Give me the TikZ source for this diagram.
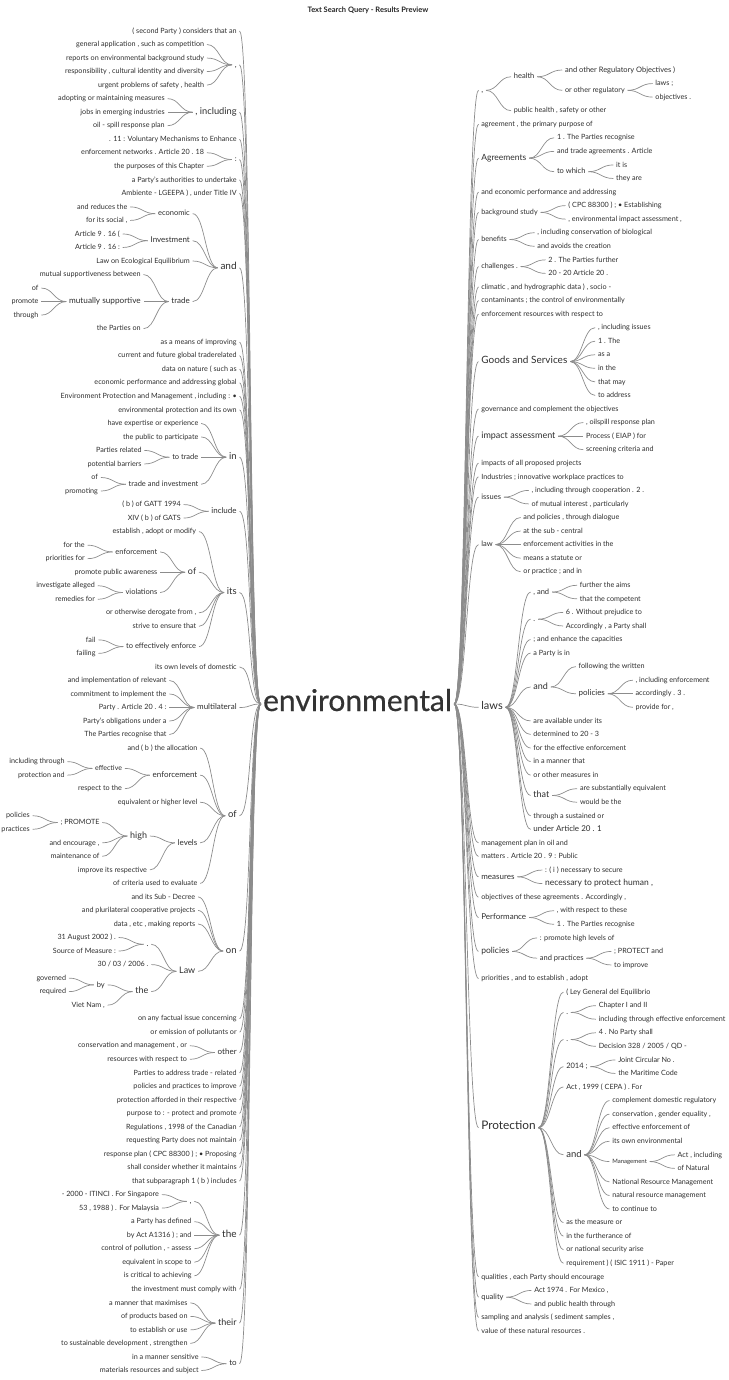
\documentclass[tikz,border=0pt]{standalone}
\usepackage{fontspec}
\setmainfont{Lato}
\newfontfamily\rootfont[FakeBold=0.5]{Lato}
\tikzset{every path/.style={line width=.7pt}}
\tikzset{
  lw/.style={anchor=east,inner xsep=2.5pt,inner ysep=0pt,text height=6.4pt,text depth=2pt,
    text=black!82,font=\fontsize{7.2}{8}\selectfont},
  rw/.style={lw,anchor=west},
  sz/.style={font=\fontsize{#1}{#1}\selectfont},
  link/.style={draw=black!45},
  wt/.style={to path={.. controls +(#1,0) and +(-#1,0) .. (\tikztotarget)}},
  wt/.default=12
}

\begin{document}
\begin{tikzpicture}[x=1pt,y=1pt]
  \useasboundingbox (0,0) rectangle (728,-1380);
  \node[font=\bfseries\fontsize{7.5}{8}\selectfont,text=black!85] (title) at (368,-10.7) {Text Search Query - Results Preview};
  \node[font=\rootfont\fontsize{30}{30}\selectfont,text=black!80,inner xsep=2pt,inner ysep=0pt,text height=20pt,text depth=6pt] (root) at (357.5,-704) {environmental};

  % left half, one unit = one row
  \begin{scope}[yshift=-17.47pt,y=-13.53pt]
    \node[lw] (l1) at (239.5,1) {( second Party ) considers that an};
    \node[lw,sz=8] (lc) at (239.5,3.5) {,};
    \node[lw,xshift=-25] (l2) at (lc.west |- 0,2) {general application , such as competition};
    \node[lw,xshift=-25] (l3) at (lc.west |- 0,3) {reports on environmental background study};
    \node[lw,xshift=-25] (l4) at (lc.west |- 0,4) {responsibility , cultural identity and diversity};
    \node[lw,xshift=-25] (l5) at (lc.west |- 0,5) {urgent problems of safety , health};
    \node[lw,sz=9.3] (linc) at (239.5,7) {, including};
    \node[lw,xshift=-25] (l6) at (linc.west |- 0,6) {adopting or maintaining measures};
    \node[lw,xshift=-25] (l7) at (linc.west |- 0,7) {jobs in emerging industries};
    \node[lw,xshift=-25] (l8) at (linc.west |- 0,8) {oil - spill response plan};
    \node[lw] (l9) at (239.5,9) {. 11 : Voluntary Mechanisms to Enhance};
    \node[lw,sz=7.5] (lcol) at (239.5,10.5) {:};
    \node[lw,xshift=-25] (l10) at (lcol.west |- 0,10) {enforcement networks . Article 20 . 18};
    \node[lw,xshift=-25] (l11) at (lcol.west |- 0,11) {the purposes of this Chapter};
    \node[lw] (l12) at (239.5,12) {a Party's authorities to undertake};
    \node[lw] (l13) at (239.5,13) {Ambiente - LGEEPA ) , under Title IV};
    \node[lw,sz=10] (land) at (239.5,18.5) {and};
    \node[lw,sz=7.5,xshift=-25] (lecon) at (land.west |- 0,14.5) {economic};
    \node[lw,xshift=-25] (l14) at (lecon.west |- 0,14) {and reduces the};
    \node[lw,xshift=-25] (l15) at (lecon.west |- 0,15) {for its social ,};
    \node[lw,sz=8,xshift=-25] (linv) at (land.west |- 0,16.5) {Investment};
    \node[lw,xshift=-25] (l16) at (linv.west |- 0,16) {Article 9 . 16 (};
    \node[lw,xshift=-25] (l17) at (linv.west |- 0,17) {Article 9 . 16 :};
    \node[lw,xshift=-25] (l18) at (land.west |- 0,18) {Law on Ecological Equilibrium};
    \node[lw,sz=8,xshift=-25] (ltrade) at (land.west |- 0,21) {trade};
    \node[lw,xshift=-25] (l19) at (ltrade.west |- 0,19) {mutual supportiveness between};
    \node[lw,sz=8.2,xshift=-25] (lmut) at (ltrade.west |- 0,21) {mutually supportive};
    \node[lw,xshift=-25] (l20) at (lmut.west |- 0,20) {of};
    \node[lw,xshift=-25] (l21) at (lmut.west |- 0,21) {promote};
    \node[lw,xshift=-25] (l22) at (lmut.west |- 0,22) {through};
    \node[lw,xshift=-25] (l23) at (ltrade.west |- 0,23) {the Parties on};
    \node[lw] (l24) at (239.5,24) {as a means of improving};
    \node[lw] (l25) at (239.5,25) {current and future global traderelated};
    \node[lw] (l26) at (239.5,26) {data on nature ( such as};
    \node[lw] (l27) at (239.5,27) {economic performance and addressing global};
    \node[lw] (l28) at (239.5,28) {Environment Protection and Management , including : •};
    \node[lw] (l29) at (239.5,29) {environmental protection and its own};
    \node[lw,sz=9.5] (lin) at (239.5,32.5) {in};
    \node[lw,xshift=-25] (l30) at (lin.west |- 0,30) {have expertise or experience};
    \node[lw,xshift=-25] (l31) at (lin.west |- 0,31) {the public to participate};
    \node[lw,sz=7.5,xshift=-25] (ltotr) at (lin.west |- 0,32.5) {to trade};
    \node[lw,xshift=-25] (l32) at (ltotr.west |- 0,32) {Parties related};
    \node[lw,xshift=-25] (l33) at (ltotr.west |- 0,33) {potential barriers};
    \node[lw,sz=7.5,xshift=-25] (ltrinv) at (lin.west |- 0,34.5) {trade and investment};
    \node[lw,xshift=-25] (l34) at (ltrinv.west |- 0,34) {of};
    \node[lw,xshift=-25] (l35) at (ltrinv.west |- 0,35) {promoting};
    \node[lw,sz=8] (lincl) at (239.5,36.5) {include};
    \node[lw,xshift=-25] (l36) at (lincl.west |- 0,36) {( b ) of GATT 1994};
    \node[lw,xshift=-25] (l37) at (lincl.west |- 0,37) {XIV ( b ) of GATS};
    \node[lw,sz=9.5] (lits) at (239.5,42.5) {its};
    \node[lw,xshift=-25] (l38) at (lits.west |- 0,38) {establish , adopt or modify};
    \node[lw,sz=9,xshift=-25] (lof1) at (lits.west |- 0,41) {of};
    \node[lw,sz=7.5,xshift=-25] (lenf1) at (lof1.west |- 0,39.5) {enforcement};
    \node[lw,xshift=-25] (l39) at (lenf1.west |- 0,39) {for the};
    \node[lw,xshift=-25] (l40) at (lenf1.west |- 0,40) {priorities for};
    \node[lw,xshift=-25] (l41) at (lof1.west |- 0,41) {promote public awareness};
    \node[lw,sz=7.5,xshift=-25] (lviol) at (lof1.west |- 0,42.5) {violations};
    \node[lw,xshift=-25] (l42) at (lviol.west |- 0,42) {investigate alleged};
    \node[lw,xshift=-25] (l43) at (lviol.west |- 0,43) {remedies for};
    \node[lw,xshift=-25] (l44) at (lits.west |- 0,44) {or otherwise derogate from ,};
    \node[lw,xshift=-25] (l45) at (lits.west |- 0,45) {strive to ensure that};
    \node[lw,sz=7.5,xshift=-25] (leff1) at (lits.west |- 0,46.5) {to effectively enforce};
    \node[lw,xshift=-25] (l46) at (leff1.west |- 0,46) {fail};
    \node[lw,xshift=-25] (l47) at (leff1.west |- 0,47) {failing};
    \node[lw] (l48) at (239.5,48) {its own levels of domestic};
    \node[lw,sz=8] (lmulti) at (239.5,51) {multilateral};
    \node[lw,xshift=-25] (l49) at (lmulti.west |- 0,49) {and implementation of relevant};
    \node[lw,xshift=-25] (l50) at (lmulti.west |- 0,50) {commitment to implement the};
    \node[lw,xshift=-25] (l51) at (lmulti.west |- 0,51) {Party . Article 20 . 4 :};
    \node[lw,xshift=-25] (l52) at (lmulti.west |- 0,52) {Party's obligations under a};
    \node[lw,xshift=-25] (l53) at (lmulti.west |- 0,53) {The Parties recognise that};
    \node[lw,sz=9.5] (lof2) at (239.5,59) {of};
    \node[lw,xshift=-25] (l54) at (lof2.west |- 0,54) {and ( b ) the allocation};
    \node[lw,sz=8,xshift=-25] (lenf2) at (lof2.west |- 0,56) {enforcement};
    \node[lw,sz=7,xshift=-25] (leff2) at (lenf2.west |- 0,55.5) {effective};
    \node[lw,xshift=-25] (l55) at (leff2.west |- 0,55) {including through};
    \node[lw,xshift=-25] (l56) at (leff2.west |- 0,56) {protection and};
    \node[lw,xshift=-25] (l57) at (lenf2.west |- 0,57) {respect to the};
    \node[lw,xshift=-25] (l58) at (lof2.west |- 0,58) {equivalent or higher level};
    \node[lw,sz=8,xshift=-25] (llev) at (lof2.west |- 0,61) {levels};
    \node[lw,sz=9,xshift=-25] (lhigh) at (llev.west |- 0,60.5) {high};
    \node[lw,xshift=-25] (lprom) at (lhigh.west |- 0,59.5) {; PROMOTE};
    \node[lw,xshift=-25] (l59) at (lprom.west |- 0,59) {policies};
    \node[lw,xshift=-25] (l60) at (lprom.west |- 0,60) {practices};
    \node[lw,xshift=-25] (l61) at (lhigh.west |- 0,61) {and encourage ,};
    \node[lw,xshift=-25] (l62) at (lhigh.west |- 0,62) {maintenance of};
    \node[lw,xshift=-25] (l63) at (llev.west |- 0,63) {improve its respective};
    \node[lw,xshift=-25] (l64) at (lof2.west |- 0,64) {of criteria used to evaluate};
    \node[lw,sz=9.5] (lon) at (239.5,69) {on};
    \node[lw,xshift=-25] (l65) at (lon.west |- 0,65) {and its Sub - Decree};
    \node[lw,xshift=-25] (l66) at (lon.west |- 0,66) {and plurilateral cooperative projects};
    \node[lw,xshift=-25] (l67) at (lon.west |- 0,67) {data , etc , making reports};
    \node[lw,sz=9,xshift=-25] (llaw) at (lon.west |- 0,70.5) {Law};
    \node[lw,sz=8,xshift=-25] (ldot) at (llaw.west |- 0,68.5) {.};
    \node[lw,xshift=-25] (l68) at (ldot.west |- 0,68) {31 August 2002 ) .};
    \node[lw,xshift=-25] (l69) at (ldot.west |- 0,69) {Source of Measure :};
    \node[lw,xshift=-25] (l70) at (llaw.west |- 0,70) {30 / 03 / 2006 .};
    \node[lw,sz=9,xshift=-25] (lthe1) at (llaw.west |- 0,72) {the};
    \node[lw,sz=7.5,xshift=-25] (lby) at (lthe1.west |- 0,71.5) {by};
    \node[lw,xshift=-25] (l71) at (lby.west |- 0,71) {governed};
    \node[lw,xshift=-25] (l72) at (lby.west |- 0,72) {required};
    \node[lw,xshift=-25] (l73) at (lthe1.west |- 0,73) {Viet Nam ,};
    \node[lw] (l74) at (239.5,74) {on any factual issue concerning};
    \node[lw] (l75) at (239.5,75) {or emission of pollutants or};
    \node[lw,sz=8] (lother) at (239.5,76.5) {other};
    \node[lw,xshift=-25] (l76) at (lother.west |- 0,76) {conservation and management , or};
    \node[lw,xshift=-25] (l77) at (lother.west |- 0,77) {resources with respect to};
    \node[lw] (l78) at (239.5,78) {Parties to address trade - related};
    \node[lw] (l79) at (239.5,79) {policies and practices to improve};
    \node[lw] (l80) at (239.5,80) {protection afforded in their respective};
    \node[lw] (l81) at (239.5,81) {purpose to : - protect and promote};
    \node[lw] (l82) at (239.5,82) {Regulations , 1998 of the Canadian};
    \node[lw] (l83) at (239.5,83) {requesting Party does not maintain};
    \node[lw] (l84) at (239.5,84) {response plan ( CPC 88300 ) ; • Proposing};
    \node[lw] (l85) at (239.5,85) {shall consider whether it maintains};
    \node[lw] (l86) at (239.5,86) {that subparagraph 1 ( b ) includes};
    \node[lw,sz=10] (lthe2) at (239.5,90) {the};
    \node[lw,sz=8,xshift=-25] (lcom) at (lthe2.west |- 0,87.5) {,};
    \node[lw,xshift=-25] (l87) at (lcom.west |- 0,87) {- 2000 - ITINCI . For Singapore};
    \node[lw,xshift=-25] (l88) at (lcom.west |- 0,88) {53 , 1988 ) . For Malaysia};
    \node[lw,xshift=-25] (l89) at (lthe2.west |- 0,89) {a Party has defined};
    \node[lw,xshift=-25] (l90) at (lthe2.west |- 0,90) {by Act A1316 ) ; and};
    \node[lw,xshift=-25] (l91) at (lthe2.west |- 0,91) {control of pollution , - assess};
    \node[lw,xshift=-25] (l92) at (lthe2.west |- 0,92) {equivalent in scope to};
    \node[lw,xshift=-25] (l93) at (lthe2.west |- 0,93) {is critical to achieving};
    \node[lw] (l94) at (239.5,94) {the investment must comply with};
    \node[lw,sz=9] (ltheir) at (239.5,96.5) {their};
    \node[lw,xshift=-25] (l95) at (ltheir.west |- 0,95) {a manner that maximises};
    \node[lw,xshift=-25] (l96) at (ltheir.west |- 0,96) {of products based on};
    \node[lw,xshift=-25] (l97) at (ltheir.west |- 0,97) {to establish or use};
    \node[lw,xshift=-25] (l98) at (ltheir.west |- 0,98) {to sustainable development , strengthen};
    \node[lw,sz=8] (lto) at (239.5,99.5) {to};
    \node[lw,xshift=-25] (l99) at (lto.west |- 0,99) {in a manner sensitive};
    \node[lw,xshift=-25] (l100) at (lto.west |- 0,100) {materials resources and subject};

    \path[link] (root.west) edge[wt=-12] (l1.east) edge[wt=-12] (lc.east) edge[wt=-12] (linc.east)
      edge[wt=-12] (l9.east) edge[wt=-12] (lcol.east) edge[wt=-12] (l12.east) edge[wt=-12] (l13.east)
      edge[wt=-12] (land.east) edge[wt=-12] (l24.east) edge[wt=-12] (l25.east) edge[wt=-12] (l26.east)
      edge[wt=-12] (l27.east) edge[wt=-12] (l28.east) edge[wt=-12] (l29.east) edge[wt=-12] (lin.east)
      edge[wt=-12] (lincl.east) edge[wt=-12] (lits.east) edge[wt=-12] (l48.east) edge[wt=-12] (lmulti.east)
      edge[wt=-12] (lof2.east) edge[wt=-12] (lon.east) edge[wt=-12] (l74.east) edge[wt=-12] (l75.east)
      edge[wt=-12] (lother.east) edge[wt=-12] (l78.east) edge[wt=-12] (l79.east) edge[wt=-12] (l80.east)
      edge[wt=-12] (l81.east) edge[wt=-12] (l82.east) edge[wt=-12] (l83.east) edge[wt=-12] (l84.east)
      edge[wt=-12] (l85.east) edge[wt=-12] (l86.east) edge[wt=-12] (lthe2.east) edge[wt=-12] (l94.east)
      edge[wt=-12] (ltheir.east) edge[wt=-12] (lto.east);
    \path[link] (lc.west) edge[wt=-12] (l2.east) edge[wt=-12] (l3.east) edge[wt=-12] (l4.east) edge[wt=-12] (l5.east);
    \path[link] (linc.west) edge[wt=-12] (l6.east) edge[wt=-12] (l7.east) edge[wt=-12] (l8.east);
    \path[link] (lcol.west) edge[wt=-12] (l10.east) edge[wt=-12] (l11.east);
    \path[link] (land.west) edge[wt=-12] (lecon.east) edge[wt=-12] (linv.east) edge[wt=-12] (l18.east) edge[wt=-12] (ltrade.east);
    \path[link] (lecon.west) edge[wt=-12] (l14.east) edge[wt=-12] (l15.east);
    \path[link] (linv.west) edge[wt=-12] (l16.east) edge[wt=-12] (l17.east);
    \path[link] (ltrade.west) edge[wt=-12] (l19.east) edge[wt=-12] (lmut.east) edge[wt=-12] (l23.east);
    \path[link] (lmut.west) edge[wt=-12] (l20.east) edge[wt=-12] (l21.east) edge[wt=-12] (l22.east);
    \path[link] (lin.west) edge[wt=-12] (l30.east) edge[wt=-12] (l31.east) edge[wt=-12] (ltotr.east) edge[wt=-12] (ltrinv.east);
    \path[link] (ltotr.west) edge[wt=-12] (l32.east) edge[wt=-12] (l33.east);
    \path[link] (ltrinv.west) edge[wt=-12] (l34.east) edge[wt=-12] (l35.east);
    \path[link] (lincl.west) edge[wt=-12] (l36.east) edge[wt=-12] (l37.east);
    \path[link] (lits.west) edge[wt=-12] (l38.east) edge[wt=-12] (lof1.east) edge[wt=-12] (l44.east)
      edge[wt=-12] (l45.east) edge[wt=-12] (leff1.east);
    \path[link] (lof1.west) edge[wt=-12] (lenf1.east) edge[wt=-12] (l41.east) edge[wt=-12] (lviol.east);
    \path[link] (lenf1.west) edge[wt=-12] (l39.east) edge[wt=-12] (l40.east);
    \path[link] (lviol.west) edge[wt=-12] (l42.east) edge[wt=-12] (l43.east);
    \path[link] (leff1.west) edge[wt=-12] (l46.east) edge[wt=-12] (l47.east);
    \path[link] (lmulti.west) edge[wt=-12] (l49.east) edge[wt=-12] (l50.east) edge[wt=-12] (l51.east)
      edge[wt=-12] (l52.east) edge[wt=-12] (l53.east);
    \path[link] (lof2.west) edge[wt=-12] (l54.east) edge[wt=-12] (lenf2.east) edge[wt=-12] (l58.east)
      edge[wt=-12] (llev.east) edge[wt=-12] (l64.east);
    \path[link] (lenf2.west) edge[wt=-12] (leff2.east) edge[wt=-12] (l57.east);
    \path[link] (leff2.west) edge[wt=-12] (l55.east) edge[wt=-12] (l56.east);
    \path[link] (llev.west) edge[wt=-12] (lhigh.east) edge[wt=-12] (l63.east);
    \path[link] (lhigh.west) edge[wt=-12] (lprom.east) edge[wt=-12] (l61.east) edge[wt=-12] (l62.east);
    \path[link] (lprom.west) edge[wt=-12] (l59.east) edge[wt=-12] (l60.east);
    \path[link] (lon.west) edge[wt=-12] (l65.east) edge[wt=-12] (l66.east) edge[wt=-12] (l67.east) edge[wt=-12] (llaw.east);
    \path[link] (llaw.west) edge[wt=-12] (ldot.east) edge[wt=-12] (l70.east) edge[wt=-12] (lthe1.east);
    \path[link] (ldot.west) edge[wt=-12] (l68.east) edge[wt=-12] (l69.east);
    \path[link] (lthe1.west) edge[wt=-12] (lby.east) edge[wt=-12] (l73.east);
    \path[link] (lby.west) edge[wt=-12] (l71.east) edge[wt=-12] (l72.east);
    \path[link] (lother.west) edge[wt=-12] (l76.east) edge[wt=-12] (l77.east);
    \path[link] (lthe2.west) edge[wt=-12] (lcom.east) edge[wt=-12] (l89.east) edge[wt=-12] (l90.east)
      edge[wt=-12] (l91.east) edge[wt=-12] (l92.east) edge[wt=-12] (l93.east);
    \path[link] (lcom.west) edge[wt=-12] (l87.east) edge[wt=-12] (l88.east);
    \path[link] (ltheir.west) edge[wt=-12] (l95.east) edge[wt=-12] (l96.east) edge[wt=-12] (l97.east) edge[wt=-12] (l98.east);
    \path[link] (lto.west) edge[wt=-12] (l99.east) edge[wt=-12] (l100.east);
  \end{scope}

  % right half, one unit = one row
  \begin{scope}[yshift=-56.44pt,y=-13.56pt]
    \node[rw,sz=8] (rc) at (478.5,2.5) {,};
    \node[rw,sz=7.5,xshift=25] (rhealth) at (rc.east |- 0,1.5) {health};
    \node[rw,sz=7.5,xshift=25] (r1) at (rhealth.east |- 0,1) {and other Regulatory Objectives )};
    \node[rw,xshift=25] (rother) at (rhealth.east |- 0,2.5) {or other regulatory};
    \node[rw,xshift=25] (r2) at (rother.east |- 0,2) {laws ;};
    \node[rw,xshift=25] (r3) at (rother.east |- 0,3) {objectives .};
    \node[rw,xshift=25] (r4) at (rc.east |- 0,4) {public health , safety or other};
    \node[rw] (r5) at (478.5,5) {agreement , the primary purpose of};
    \node[rw,sz=8.5] (ragr) at (478.5,7.5) {Agreements};
    \node[rw,xshift=25] (r6) at (ragr.east |- 0,6) {1 . The Parties recognise};
    \node[rw,xshift=25] (r7) at (ragr.east |- 0,7) {and trade agreements . Article};
    \node[rw,sz=7.5,xshift=25] (rwhich) at (ragr.east |- 0,8.5) {to which};
    \node[rw,xshift=25] (r8) at (rwhich.east |- 0,8) {it is};
    \node[rw,xshift=25] (r9) at (rwhich.east |- 0,9) {they are};
    \node[rw] (r10) at (478.5,10) {and economic performance and addressing};
    \node[rw] (rbg) at (478.5,11.5) {background study};
    \node[rw,xshift=25] (r11) at (rbg.east |- 0,11) {( CPC 88300 ) ; • Establishing};
    \node[rw,xshift=25] (r12) at (rbg.east |- 0,12) {, environmental impact assessment ,};
    \node[rw] (rben) at (478.5,13.5) {benefits};
    \node[rw,xshift=25] (r13) at (rben.east |- 0,13) {, including conservation of biological};
    \node[rw,xshift=25] (r14) at (rben.east |- 0,14) {and avoids the creation};
    \node[rw] (rchal) at (478.5,15.5) {challenges .};
    \node[rw,xshift=25] (r15) at (rchal.east |- 0,15) {2 . The Parties further};
    \node[rw,xshift=25] (r16) at (rchal.east |- 0,16) {20 - 20 Article 20 .};
    \node[rw] (r17) at (478.5,17) {climatic , and hydrographic data ) , socio -};
    \node[rw] (r18) at (478.5,18) {contaminants ; the control of environmentally};
    \node[rw] (r19) at (478.5,19) {enforcement resources with respect to};
    \node[rw,sz=10] (rgoods) at (478.5,22.5) {Goods and Services};
    \node[rw,xshift=25] (r20) at (rgoods.east |- 0,20) {, including issues};
    \node[rw,xshift=25] (r21) at (rgoods.east |- 0,21) {1 . The};
    \node[rw,xshift=25] (r22) at (rgoods.east |- 0,22) {as a};
    \node[rw,xshift=25] (r23) at (rgoods.east |- 0,23) {in the};
    \node[rw,xshift=25] (r24) at (rgoods.east |- 0,24) {that may};
    \node[rw,xshift=25] (r25) at (rgoods.east |- 0,25) {to address};
    \node[rw] (r26) at (478.5,26) {governance and complement the objectives};
    \node[rw,sz=9] (rimp) at (478.5,28) {impact assessment};
    \node[rw,xshift=25] (r27) at (rimp.east |- 0,27) {, oilspill response plan};
    \node[rw,xshift=25] (r28) at (rimp.east |- 0,28) {Process ( EIAP ) for};
    \node[rw,xshift=25] (r29) at (rimp.east |- 0,29) {screening criteria and};
    \node[rw] (r30) at (478.5,30) {impacts of all proposed projects};
    \node[rw] (r31) at (478.5,31) {Industries ; innovative workplace practices to};
    \node[rw,sz=7.5] (riss) at (478.5,32.5) {issues};
    \node[rw,xshift=25] (r32) at (riss.east |- 0,32) {, including through cooperation . 2 .};
    \node[rw,xshift=25] (r33) at (riss.east |- 0,33) {of mutual interest , particularly};
    \node[rw,sz=7.5] (rlaw) at (478.5,36) {law};
    \node[rw,xshift=25] (r34) at (rlaw.east |- 0,34) {and policies , through dialogue};
    \node[rw,xshift=25] (r35) at (rlaw.east |- 0,35) {at the sub - central};
    \node[rw,xshift=25] (r36) at (rlaw.east |- 0,36) {enforcement activities in the};
    \node[rw,xshift=25] (r37) at (rlaw.east |- 0,37) {means a statute or};
    \node[rw,xshift=25] (r38) at (rlaw.east |- 0,38) {or practice ; and in};
    \node[rw,sz=11] (rlaws) at (478.5,48) {laws};
    \node[rw,sz=7.5,xshift=25] (rand1) at (rlaws.east |- 0,39.5) {, and};
    \node[rw,xshift=25] (r39) at (rand1.east |- 0,39) {further the aims};
    \node[rw,xshift=25] (r40) at (rand1.east |- 0,40) {that the competent};
    \node[rw,sz=7.5,xshift=25] (rdot1) at (rlaws.east |- 0,41.5) {.};
    \node[rw,xshift=25] (r41) at (rdot1.east |- 0,41) {6 . Without prejudice to};
    \node[rw,xshift=25] (r42) at (rdot1.east |- 0,42) {Accordingly , a Party shall};
    \node[rw,xshift=25] (r43) at (rlaws.east |- 0,43) {; and enhance the capacities};
    \node[rw,xshift=25] (r44) at (rlaws.east |- 0,44) {a Party is in};
    \node[rw,sz=9,xshift=25] (rand2) at (rlaws.east |- 0,46.5) {and};
    \node[rw,xshift=25] (r45) at (rand2.east |- 0,45) {following the written};
    \node[rw,sz=8,xshift=25] (rpol1) at (rand2.east |- 0,47) {policies};
    \node[rw,xshift=25] (r46) at (rpol1.east |- 0,46) {, including enforcement};
    \node[rw,xshift=25] (r47) at (rpol1.east |- 0,47) {accordingly . 3 .};
    \node[rw,xshift=25] (r48) at (rpol1.east |- 0,48) {provide for ,};
    \node[rw,xshift=25] (r49) at (rlaws.east |- 0,49) {are available under its};
    \node[rw,xshift=25] (r50) at (rlaws.east |- 0,50) {determined to 20 - 3};
    \node[rw,xshift=25] (r51) at (rlaws.east |- 0,51) {for the effective enforcement};
    \node[rw,xshift=25] (r52) at (rlaws.east |- 0,52) {in a manner that};
    \node[rw,xshift=25] (r53) at (rlaws.east |- 0,53) {or other measures in};
    \node[rw,sz=9,xshift=25] (rthat) at (rlaws.east |- 0,54.5) {that};
    \node[rw,xshift=25] (r54) at (rthat.east |- 0,54) {are substantially equivalent};
    \node[rw,xshift=25] (r55) at (rthat.east |- 0,55) {would be the};
    \node[rw,xshift=25] (r56) at (rlaws.east |- 0,56) {through a sustained or};
    \node[rw,sz=8,xshift=25] (r57) at (rlaws.east |- 0,57) {under Article 20 . 1};
    \node[rw] (r58) at (478.5,58) {management plan in oil and};
    \node[rw] (r59) at (478.5,59) {matters . Article 20 . 9 : Public};
    \node[rw,sz=8] (rmeas) at (478.5,60.5) {measures};
    \node[rw,xshift=25] (r60) at (rmeas.east |- 0,60) {: ( i ) necessary to secure};
    \node[rw,sz=8.5,xshift=25] (r61) at (rmeas.east |- 0,61) {necessary to protect human ,};
    \node[rw] (r62) at (478.5,62) {objectives of these agreements . Accordingly ,};
    \node[rw,sz=8] (rperf) at (478.5,63.5) {Performance};
    \node[rw,xshift=25] (r63) at (rperf.east |- 0,63) {, with respect to these};
    \node[rw,xshift=25] (r64) at (rperf.east |- 0,64) {1 . The Parties recognise};
    \node[rw,sz=8.5] (rpol2) at (478.5,66) {policies};
    \node[rw,xshift=25] (r65) at (rpol2.east |- 0,65) {: promote high levels of};
    \node[rw,sz=7.5,xshift=25] (rprac) at (rpol2.east |- 0,66.5) {and practices};
    \node[rw,xshift=25] (r66) at (rprac.east |- 0,66) {; PROTECT and};
    \node[rw,xshift=25] (r67) at (rprac.east |- 0,67) {to improve};
    \node[rw] (r68) at (478.5,68) {priorities , and to establish , adopt};
    \node[rw,sz=11.8] (rprot) at (478.5,79) {Protection};
    \node[rw,xshift=25] (r69) at (rprot.east |- 0,69) {( Ley General del Equilibrio};
    \node[rw,sz=7.5,xshift=25] (rdot2) at (rprot.east |- 0,70.5) {.};
    \node[rw,xshift=25] (r70) at (rdot2.east |- 0,70) {Chapter I and II};
    \node[rw,xshift=25] (r71) at (rdot2.east |- 0,71) {including through effective enforcement};
    \node[rw,sz=7.5,xshift=25] (rdot3) at (rprot.east |- 0,72.5) {.};
    \node[rw,xshift=25] (r72) at (rdot3.east |- 0,72) {4 . No Party shall};
    \node[rw,xshift=25] (r73) at (rdot3.east |- 0,73) {Decision 328 / 2005 / QD -};
    \node[rw,sz=7.5,xshift=25] (r2014) at (rprot.east |- 0,74.5) {2014 ;};
    \node[rw,xshift=25] (r74) at (r2014.east |- 0,74) {Joint Circular No .};
    \node[rw,xshift=25] (r75) at (r2014.east |- 0,75) {the Maritime Code};
    \node[rw,xshift=25] (r76) at (rprot.east |- 0,76) {Act , 1999 ( CEPA ) . For};
    \node[rw,sz=9.5,xshift=25] (rand3) at (rprot.east |- 0,81) {and};
    \node[rw,xshift=25] (r77) at (rand3.east |- 0,77) {complement domestic regulatory};
    \node[rw,xshift=25] (r78) at (rand3.east |- 0,78) {conservation , gender equality ,};
    \node[rw,xshift=25] (r79) at (rand3.east |- 0,79) {effective enforcement of};
    \node[rw,xshift=25] (r80) at (rand3.east |- 0,80) {its own environmental};
    \node[rw,sz=6,xshift=25] (rmgmt) at (rand3.east |- 0,81.5) {Management};
    \node[rw,xshift=25] (r81) at (rmgmt.east |- 0,81) {Act , including};
    \node[rw,xshift=25] (r82) at (rmgmt.east |- 0,82) {of Natural};
    \node[rw,xshift=25] (r83) at (rand3.east |- 0,83) {National Resource Management};
    \node[rw,xshift=25] (r84) at (rand3.east |- 0,84) {natural resource management};
    \node[rw,xshift=25] (r85) at (rand3.east |- 0,85) {to continue to};
    \node[rw,xshift=25] (r86) at (rprot.east |- 0,86) {as the measure or};
    \node[rw,xshift=25] (r87) at (rprot.east |- 0,87) {in the furtherance of};
    \node[rw,xshift=25] (r88) at (rprot.east |- 0,88) {or national security arise};
    \node[rw,xshift=25] (r89) at (rprot.east |- 0,89) {requirement ) ( ISIC 1911 ) - Paper};
    \node[rw] (r90) at (478.5,90) {qualities , each Party should encourage};
    \node[rw,sz=7.5] (rqual) at (478.5,91.5) {quality};
    \node[rw,xshift=25] (r91) at (rqual.east |- 0,91) {Act 1974 . For Mexico ,};
    \node[rw,xshift=25] (r92) at (rqual.east |- 0,92) {and public health through};
    \node[rw] (r93) at (478.5,93) {sampling and analysis ( sediment samples ,};
    \node[rw] (r94) at (478.5,94) {value of these natural resources .};

    \path[link] (root.east) edge[wt] (rc.west) edge[wt] (r5.west) edge[wt] (ragr.west) edge[wt] (r10.west)
      edge[wt] (rbg.west) edge[wt] (rben.west) edge[wt] (rchal.west) edge[wt] (r17.west) edge[wt] (r18.west)
      edge[wt] (r19.west) edge[wt] (rgoods.west) edge[wt] (r26.west) edge[wt] (rimp.west) edge[wt] (r30.west)
      edge[wt] (r31.west) edge[wt] (riss.west) edge[wt] (rlaw.west) edge[wt] (rlaws.west) edge[wt] (r58.west)
      edge[wt] (r59.west) edge[wt] (rmeas.west) edge[wt] (r62.west) edge[wt] (rperf.west) edge[wt] (rpol2.west)
      edge[wt] (r68.west) edge[wt] (rprot.west) edge[wt] (r90.west) edge[wt] (rqual.west) edge[wt] (r93.west)
      edge[wt] (r94.west);
    \path[link] (rc.east) edge[wt] (rhealth.west) edge[wt] (r4.west);
    \path[link] (rhealth.east) edge[wt] (r1.west) edge[wt] (rother.west);
    \path[link] (rother.east) edge[wt] (r2.west) edge[wt] (r3.west);
    \path[link] (ragr.east) edge[wt] (r6.west) edge[wt] (r7.west) edge[wt] (rwhich.west);
    \path[link] (rwhich.east) edge[wt] (r8.west) edge[wt] (r9.west);
    \path[link] (rbg.east) edge[wt] (r11.west) edge[wt] (r12.west);
    \path[link] (rben.east) edge[wt] (r13.west) edge[wt] (r14.west);
    \path[link] (rchal.east) edge[wt] (r15.west) edge[wt] (r16.west);
    \path[link] (rgoods.east) edge[wt] (r20.west) edge[wt] (r21.west) edge[wt] (r22.west) edge[wt] (r23.west)
      edge[wt] (r24.west) edge[wt] (r25.west);
    \path[link] (rimp.east) edge[wt] (r27.west) edge[wt] (r28.west) edge[wt] (r29.west);
    \path[link] (riss.east) edge[wt] (r32.west) edge[wt] (r33.west);
    \path[link] (rlaw.east) edge[wt] (r34.west) edge[wt] (r35.west) edge[wt] (r36.west) edge[wt] (r37.west)
      edge[wt] (r38.west);
    \path[link] (rlaws.east) edge[wt] (rand1.west) edge[wt] (rdot1.west) edge[wt] (r43.west) edge[wt] (r44.west)
      edge[wt] (rand2.west) edge[wt] (r49.west) edge[wt] (r50.west) edge[wt] (r51.west) edge[wt] (r52.west)
      edge[wt] (r53.west) edge[wt] (rthat.west) edge[wt] (r56.west) edge[wt] (r57.west);
    \path[link] (rand1.east) edge[wt] (r39.west) edge[wt] (r40.west);
    \path[link] (rdot1.east) edge[wt] (r41.west) edge[wt] (r42.west);
    \path[link] (rand2.east) edge[wt] (r45.west) edge[wt] (rpol1.west);
    \path[link] (rpol1.east) edge[wt] (r46.west) edge[wt] (r47.west) edge[wt] (r48.west);
    \path[link] (rthat.east) edge[wt] (r54.west) edge[wt] (r55.west);
    \path[link] (rmeas.east) edge[wt] (r60.west) edge[wt] (r61.west);
    \path[link] (rperf.east) edge[wt] (r63.west) edge[wt] (r64.west);
    \path[link] (rpol2.east) edge[wt] (r65.west) edge[wt] (rprac.west);
    \path[link] (rprac.east) edge[wt] (r66.west) edge[wt] (r67.west);
    \path[link] (rprot.east) edge[wt] (r69.west) edge[wt] (rdot2.west) edge[wt] (rdot3.west) edge[wt] (r2014.west)
      edge[wt] (r76.west) edge[wt] (rand3.west) edge[wt] (r86.west) edge[wt] (r87.west) edge[wt] (r88.west)
      edge[wt] (r89.west);
    \path[link] (rdot2.east) edge[wt] (r70.west) edge[wt] (r71.west);
    \path[link] (rdot3.east) edge[wt] (r72.west) edge[wt] (r73.west);
    \path[link] (r2014.east) edge[wt] (r74.west) edge[wt] (r75.west);
    \path[link] (rand3.east) edge[wt] (r77.west) edge[wt] (r78.west) edge[wt] (r79.west) edge[wt] (r80.west)
      edge[wt] (rmgmt.west) edge[wt] (r83.west) edge[wt] (r84.west) edge[wt] (r85.west);
    \path[link] (rmgmt.east) edge[wt] (r81.west) edge[wt] (r82.west);
    \path[link] (rqual.east) edge[wt] (r91.west) edge[wt] (r92.west);
  \end{scope}
\end{tikzpicture}
\end{document}
